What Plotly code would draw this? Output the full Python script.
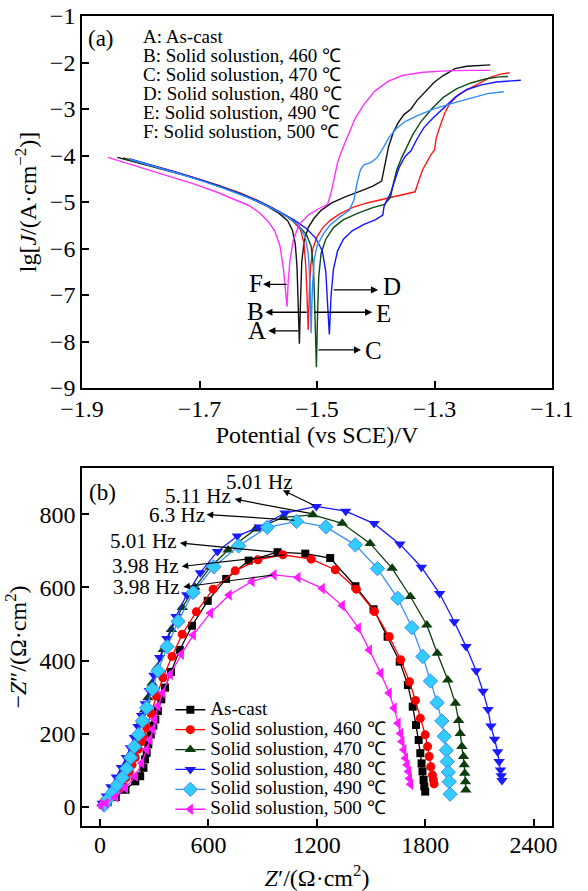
import plotly.graph_objects as go

SERIF = "Liberation Serif, Times New Roman, serif"

# ---------------- (a) polarization curves: potential (V vs SCE) and lg J ----------------
pol_letters = ["A", "B", "C", "D", "E", "F"]
pol_names = ["As-cast", "Solid solustion, 460 ℃", "Solid solustion, 470 ℃",
             "Solid solustion, 480 ℃", "Solid solustion, 490 ℃", "Solid solustion, 500 ℃"]
pol_colors = ["#111111", "#ff1a1a", "#0e4a17", "#1414ff", "#2f8cff", "#ff33ff"]

a_E = [-1.840, -1.800, -1.760, -1.720, -1.680, -1.640, -1.610, -1.585, -1.565, -1.550,
       -1.542, -1.537, -1.534, -1.532, -1.530,
       -1.528, -1.526, -1.522, -1.515, -1.505, -1.493, -1.475, -1.450, -1.425, -1.405,
       -1.390, -1.386, -1.383, -1.378, -1.370, -1.362, -1.352, -1.340, -1.330, -1.315,
       -1.300, -1.285, -1.265, -1.245, -1.225, -1.205]
a_lgJ = [-4.04, -4.17, -4.30, -4.44, -4.60, -4.78, -4.94, -5.09, -5.24, -5.40,
         -5.60, -5.90, -6.40, -7.10, -8.05,
         -7.10, -6.30, -5.85, -5.55, -5.35, -5.18, -5.02, -4.88, -4.76, -4.66,
         -4.55, -4.30, -4.05, -3.80, -3.50, -3.30, -3.12, -3.00, -2.82, -2.62,
         -2.42, -2.28, -2.13, -2.08, -2.06, -2.05]

b_E = [-1.830, -1.790, -1.750, -1.710, -1.670, -1.630, -1.600, -1.575, -1.555, -1.540,
       -1.528, -1.522, -1.519, -1.517, -1.515,
       -1.513, -1.511, -1.507, -1.500, -1.490, -1.478, -1.462, -1.440, -1.415, -1.390,
       -1.365, -1.345, -1.333, -1.327, -1.320, -1.312, -1.306, -1.300, -1.297, -1.290,
       -1.283, -1.274, -1.260, -1.242, -1.225, -1.205, -1.188, -1.172]
b_lgJ = [-4.05, -4.18, -4.32, -4.47, -4.63, -4.81, -4.97, -5.13, -5.28, -5.42,
         -5.60, -5.90, -6.40, -7.00, -7.75,
         -7.00, -6.40, -6.00, -5.75, -5.55, -5.40, -5.26, -5.12, -5.02, -4.95,
         -4.88, -4.82, -4.78, -4.55, -4.30, -4.12, -3.98, -3.88, -3.62, -3.35,
         -3.10, -2.88, -2.70, -2.57, -2.45, -2.32, -2.25, -2.22]

c_E = [-1.830, -1.790, -1.750, -1.710, -1.670, -1.630, -1.600, -1.575, -1.550, -1.532,
       -1.518, -1.510, -1.506, -1.504, -1.502, -1.501,
       -1.499, -1.497, -1.493, -1.485, -1.472, -1.455, -1.430, -1.405, -1.385, -1.375,
       -1.370, -1.364, -1.356, -1.347, -1.337, -1.323, -1.305, -1.285, -1.262, -1.238,
       -1.212, -1.190, -1.175]
c_lgJ = [-4.06, -4.19, -4.33, -4.48, -4.64, -4.82, -4.98, -5.14, -5.32, -5.50,
         -5.70, -5.95, -6.40, -7.20, -8.00, -8.55,
         -7.40, -6.60, -6.10, -5.80, -5.55, -5.38, -5.24, -5.12, -5.05, -4.90,
         -4.60, -4.30, -4.05, -3.82, -3.55, -3.27, -3.00, -2.75, -2.56, -2.44,
         -2.35, -2.31, -2.30]

d_E = [-1.820, -1.780, -1.740, -1.700, -1.660, -1.620, -1.590, -1.565, -1.540, -1.518,
       -1.502, -1.491, -1.485, -1.482, -1.479,
       -1.476, -1.472, -1.465, -1.455, -1.440, -1.420, -1.400, -1.388, -1.386, -1.382,
       -1.375, -1.368, -1.360, -1.350, -1.340, -1.330, -1.318, -1.303, -1.285, -1.265,
       -1.245, -1.220, -1.195, -1.170, -1.153]
d_lgJ = [-4.07, -4.21, -4.36, -4.52, -4.69, -4.88, -5.04, -5.20, -5.38, -5.57,
         -5.78, -6.05, -6.50, -7.20, -7.85,
         -7.00, -6.45, -6.05, -5.80, -5.62, -5.48, -5.38, -5.28, -5.10, -4.98,
         -4.82, -4.55, -4.25, -4.02, -3.90, -3.65, -3.40, -3.20, -2.98, -2.75,
         -2.58, -2.48, -2.42, -2.39, -2.38]

e_E = [-1.820, -1.780, -1.740, -1.700, -1.660, -1.620, -1.590, -1.565, -1.545, -1.530,
       -1.520, -1.515, -1.512, -1.510,
       -1.508, -1.505, -1.500, -1.490, -1.478, -1.462, -1.445, -1.437, -1.432, -1.426,
       -1.420, -1.408, -1.398, -1.388, -1.378, -1.365, -1.350, -1.330, -1.300, -1.270,
       -1.240, -1.210, -1.182]
e_lgJ = [-4.08, -4.22, -4.37, -4.53, -4.70, -4.89, -5.05, -5.21, -5.36, -5.52,
         -5.75, -6.10, -6.70, -7.82,
         -6.90, -6.25, -5.95, -5.70, -5.50, -5.33, -5.18, -4.95, -4.60, -4.30,
         -4.20, -4.15, -4.05, -3.85, -3.62, -3.42, -3.27, -3.15, -2.99, -2.88,
         -2.77, -2.67, -2.63]

f_E = [-1.856, -1.810, -1.760, -1.710, -1.670, -1.640, -1.615, -1.597, -1.583, -1.572,
       -1.563, -1.557, -1.554, -1.551,
       -1.549, -1.546, -1.540, -1.530, -1.515, -1.498, -1.482, -1.476, -1.470, -1.465,
       -1.458, -1.447, -1.435, -1.420, -1.402, -1.380, -1.355, -1.320, -1.280, -1.240,
       -1.205]
f_lgJ = [-4.04, -4.22, -4.41, -4.61, -4.79, -4.94, -5.08, -5.24, -5.42, -5.62,
         -5.95, -6.45, -6.90, -7.25,
         -6.70, -6.25, -5.80, -5.48, -5.28, -5.15, -5.05, -4.80, -4.45, -4.15,
         -3.90, -3.55, -3.20, -2.90, -2.62, -2.41, -2.28, -2.21, -2.18, -2.17,
         -2.17]

pol_E = [a_E, b_E, c_E, d_E, e_E, f_E]
pol_lgJ = [a_lgJ, b_lgJ, c_lgJ, d_lgJ, e_lgJ, f_lgJ]

# corrosion-potential pointers: label position, arrow head (label side) and tail (curve)
ptr_label_x = [-1.602, -1.604, -1.404, -1.373, -1.387, -1.604]
ptr_label_y = [-7.77, -7.36, -8.20, -6.81, -7.39, -6.75]
ptr_head_x = [-1.583, -1.588, -1.425, -1.396, -1.406, -1.592]
ptr_tail_x = [-1.529, -1.515, -1.500, -1.474, -1.507, -1.549]
ptr_y = [-7.77, -7.37, -8.18, -6.89, -7.37, -6.77]

# ---------------- (b) Nyquist plots: Z' and -Z'' (ohm cm2) ----------------
eis_names = ["As-cast", "Solid solustion, 460 ℃", "Solid solustion, 470 ℃",
             "Solid solustion, 480 ℃", "Solid solustion, 490 ℃", "Solid solustion, 500 ℃"]
eis_colors = ["#000000", "#ff0000", "#0d3d0d", "#1a1aff", "#3a8ef5", "#ff1aff"]
eis_fill = ["#000000", "#ff0000", "#0d3d0d", "#1a1aff", "#33ccff", "#ff1aff"]
eis_symbols = ["square", "circle", "triangle-up", "triangle-down", "diamond", "triangle-left"]
eis_sizes = [8, 9, 10, 10, 11, 10]

ascast_re = [15, 42, 87, 141, 195, 222, 240, 249, 258, 267, 281, 295, 306, 320, 339, 360,
             393, 441, 509, 596, 698, 823, 983, 1136, 1274, 1414, 1514, 1592, 1659, 1704,
             1731, 1749, 1764, 1773, 1780, 1785, 1791, 1795, 1800]
ascast_im = [6, 13, 27, 47, 70, 84, 107, 130, 148, 171, 198, 222, 239, 262, 294, 326,
             369, 429, 495, 563, 623, 673, 696, 692, 680, 603, 540, 465, 397, 333,
             274, 224, 183, 147, 119, 97, 74, 56, 42]

s460_re = [24, 60, 95, 123, 145, 162, 177, 195, 212, 228, 240, 258, 281, 312, 348, 398,
           455, 533, 626, 748, 874, 1012, 1169, 1302, 1419, 1519, 1601, 1664, 1713, 1746,
           1773, 1800, 1813, 1822, 1831, 1840, 1845, 1849]
s460_im = [16, 30, 45, 62, 80, 97, 115, 135, 158, 178, 192, 216, 256, 303, 353, 411,
           472, 533, 595, 645, 675, 689, 677, 648, 595, 534, 465, 402, 342, 291,
           242, 197, 165, 138, 110, 87, 74, 63]

s470_re = [15, 40, 65, 95, 125, 150, 172, 192, 210, 228, 246, 265, 288, 315, 350, 395,
           455, 525, 610, 709, 861, 1014, 1178, 1341, 1495, 1617, 1718, 1809, 1867, 1925,
           1967, 1985, 1994, 2003, 2012, 2016, 2019, 2023, 2025]
s470_im = [8, 25, 45, 70, 95, 120, 148, 175, 205, 235, 265, 298, 338, 380, 430, 485,
           545, 600, 655, 702, 759, 791, 798, 775, 720, 652, 575, 497, 420, 347,
           283, 236, 201, 165, 138, 115, 92, 69, 46]

s480_re = [12, 35, 60, 90, 118, 145, 168, 190, 210, 230, 250, 272, 298, 330, 370, 420,
           480, 555, 650, 760, 882, 1024, 1197, 1360, 1517, 1660, 1779, 1880, 1961, 2026,
           2082, 2120, 2148, 2164, 2184, 2201, 2209, 2217, 2221, 2225]
s480_im = [10, 30, 55, 82, 108, 135, 162, 190, 220, 250, 282, 318, 360, 408, 460, 520,
           580, 640, 698, 740, 765, 803, 821, 808, 774, 718, 655, 583, 506, 438,
           372, 316, 266, 221, 185, 151, 124, 101, 85, 72]

s490_re = [22, 45, 70, 95, 123, 148, 170, 190, 213, 235, 258, 290, 321, 371, 432, 515,
           630, 767, 926, 1088, 1250, 1413, 1536, 1648, 1727, 1787, 1829, 1866, 1892, 1905,
           1917, 1922, 1928, 1933, 1938]
s490_im = [5, 22, 40, 60, 80, 105, 135, 165, 198, 235, 271, 322, 372, 438, 507, 586,
           656, 713, 764, 780, 765, 716, 651, 570, 490, 411, 344, 285, 235, 193,
           155, 124, 95, 69, 35]

s500_re = [6, 33, 87, 141, 195, 231, 258, 276, 294, 303, 321, 347, 389, 450, 516, 611,
           715, 841, 963, 1096, 1230, 1341, 1430, 1491, 1554, 1601, 1628, 1650, 1664, 1671,
           1682, 1691, 1700, 1708, 1713, 1719]
s500_im = [5, 11, 27, 52, 84, 120, 157, 184, 212, 239, 276, 312, 362, 417, 470, 530,
           579, 616, 634, 627, 597, 550, 489, 429, 365, 311, 270, 229, 201, 179,
           156, 133, 115, 97, 78, 62]

eis_re = [ascast_re, s460_re, s470_re, s480_re, s490_re, s500_re]
eis_im = [ascast_im, s460_im, s470_im, s480_im, s490_im, s500_im]

# characteristic-frequency callouts: text, text position, arrow head (text side), tail (curve)
freq_text = ["5.01 Hz", "5.11 Hz", "6.3 Hz", "5.01 Hz", "3.98 Hz", "3.98 Hz"]
freq_text_x = [880, 544, 424, 239, 249, 258]
freq_text_y = [889, 849, 797, 726, 659, 602]
freq_head_x = [1012, 745, 590, 442, 452, 461]
freq_head_y = [865, 841, 799, 721, 657, 601]
freq_tail_x = [1192, 1172, 1085, 990, 1030, 962]
freq_tail_y = [822, 801, 783, 695, 689, 634]

fig = go.Figure()

for k in range(6):
    fig.add_trace(go.Scatter(
        x=pol_E[k], y=pol_lgJ[k], mode="lines", name=pol_names[k], showlegend=False,
        line=dict(color=pol_colors[k], width=1.4), xaxis="x", yaxis="y"))

for k in range(6):
    fig.add_trace(go.Scatter(
        x=eis_re[k], y=eis_im[k], mode="lines+markers",
        name='<span style="font-size:19px">' + eis_names[k] + "</span>",
        line=dict(color=eis_colors[k], width=1.3),
        marker=dict(symbol=eis_symbols[k], size=eis_sizes[k], color=eis_fill[k],
                    line=dict(color=eis_colors[k], width=1 if k == 4 else 0)),
        xaxis="x2", yaxis="y2"))

ann = []
# (a) key
for k in range(6):
    ann.append(dict(x=-1.798, y=-1.43 - 0.41 * k, xref="x", yref="y",
                    text=pol_letters[k] + ": " + pol_names[k], showarrow=False,
                    xanchor="left", yanchor="middle", borderpad=0,
                    font=dict(family=SERIF, size=19, color="black")))
# (a) pointers
for k in range(6):
    ann.append(dict(x=ptr_head_x[k], y=ptr_y[k], ax=ptr_tail_x[k], ay=ptr_y[k],
                    xref="x", yref="y", axref="x", ayref="y", text="",
                    showarrow=True, arrowhead=2, arrowsize=1.1, arrowwidth=1.3,
                    arrowcolor="black", standoff=0, startstandoff=0))
    ann.append(dict(x=ptr_label_x[k], y=ptr_label_y[k], xref="x", yref="y",
                    text=pol_letters[k], showarrow=False, xanchor="center", yanchor="middle",
                    borderpad=0, font=dict(family=SERIF, size=25, color="black")))
# (b) frequency callouts
for k in range(6):
    ann.append(dict(x=freq_head_x[k], y=freq_head_y[k], ax=freq_tail_x[k], ay=freq_tail_y[k],
                    xref="x2", yref="y2", axref="x2", ayref="y2", text="",
                    showarrow=True, arrowhead=2, arrowsize=1.1, arrowwidth=1.2,
                    arrowcolor="black", standoff=0, startstandoff=0))
    ann.append(dict(x=freq_text_x[k], y=freq_text_y[k], xref="x2", yref="y2",
                    text=freq_text[k], showarrow=False, xanchor="center", yanchor="middle",
                    borderpad=0, font=dict(family=SERIF, size=21, color="black")))
# panel tags
ann.append(dict(x=-1.868, y=-1.48, xref="x", yref="y", text="(a)", showarrow=False,
                font=dict(family=SERIF, size=23, color="black")))
ann.append(dict(x=16, y=860, xref="x2", yref="y2", text="(b)", showarrow=False,
                xanchor="center", font=dict(family=SERIF, size=23, color="black")))

axis_common = dict(showline=True, linecolor="black", linewidth=1.6, mirror=True,
                   ticks="inside", ticklen=7, tickwidth=1.6, tickcolor="black",
                   showgrid=False, zeroline=False, automargin=False,
                   tickfont=dict(family=SERIF, size=24, color="black"))

title_font = dict(family=SERIF, size=24, color="black")

fig.update_layout(
    width=588, height=891,
    margin=dict(l=82, r=36, t=16, b=65, autoexpand=False),
    paper_bgcolor="white", plot_bgcolor="white",
    font=dict(family=SERIF, color="black"),
    xaxis=dict(domain=[0, 1], anchor="y", range=[-1.9, -1.1], tick0=-1.9, dtick=0.2,
               ticklabelstandoff=-2,
               title=dict(text="Potential (vs SCE)/V", font=title_font, standoff=1),
               **axis_common),
    yaxis=dict(domain=[0.5407, 1], anchor="x", range=[-9, -1], tick0=-9, dtick=1,
               title=dict(text="lg[<i>J</i>/(A·cm<sup>−2</sup>)]", font=title_font,
                          standoff=6),
               **axis_common),
    xaxis2=dict(domain=[0, 1], anchor="y2", range=[-100, 2502], tick0=0, dtick=600,
                tickformat="d", ticklabelstandoff=-4,
                title=dict(text="<i>Z</i>′/(Ω·cm<sup>2</sup>)", font=title_font, standoff=15),
                **axis_common),
    yaxis2=dict(domain=[0, 0.442], anchor="x2", range=[-52, 926], tick0=0, dtick=200,
                tickformat="d",
                title=dict(text="−<i>Z</i>″/(Ω·cm<sup>2</sup>)", font=title_font, standoff=6),
                **axis_common),
    legend=dict(x=0.188, xanchor="left", y=0.162, yanchor="top",
                bgcolor="rgba(0,0,0,0)", borderwidth=0, itemwidth=30,
                font=dict(family=SERIF, size=13, color="black"), tracegroupgap=0),
    annotations=ann,
)

fig.write_html("out.html")
